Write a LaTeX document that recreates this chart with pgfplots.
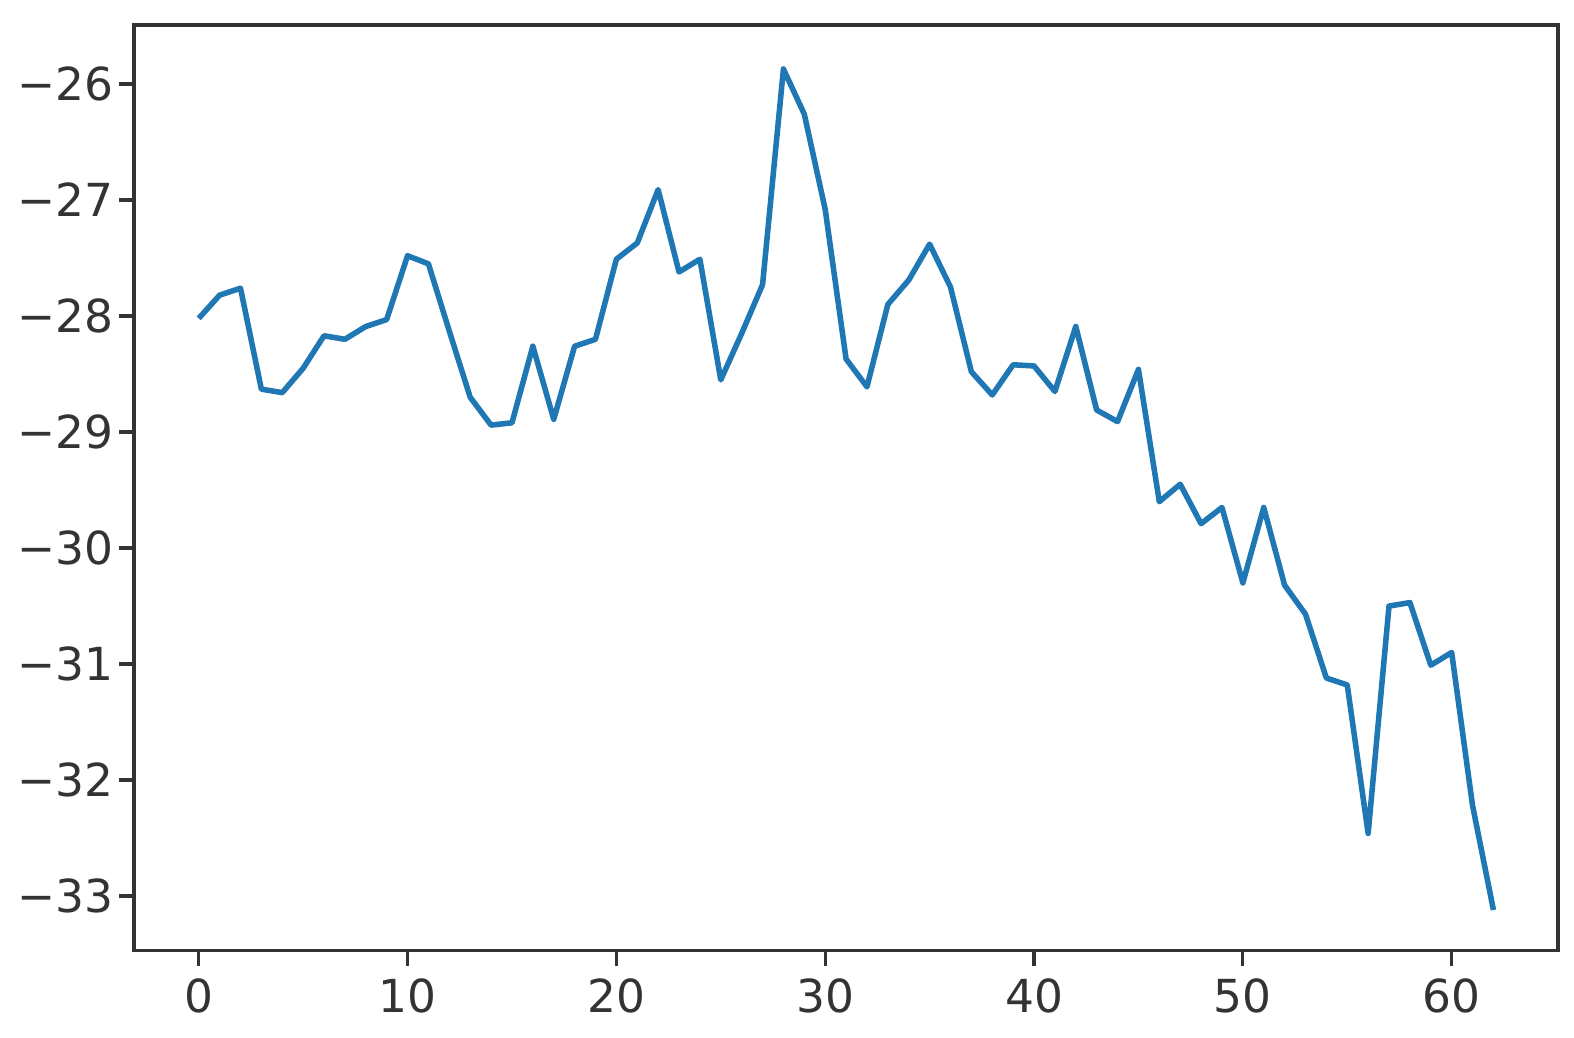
\documentclass[border=0pt]{standalone}
\usepackage{fontspec}
\setmainfont{DejaVu Sans}
\usepackage{pgfplots}
\pgfplotsset{compat=1.18}
\definecolor{mplblue}{HTML}{1F77B4}
\definecolor{axisgray}{HTML}{333333}
\begin{document}
\fontsize{11.5}{14}\selectfont
\begin{tikzpicture}
\begin{axis}[
  scale only axis,
  width=360pt, height=234pt,
  xmin=-3.1, xmax=65.1,
  ymin=-33.47, ymax=-25.49,
  xtick={0,10,20,30,40,50,60},
  ytick={-33,-32,-31,-30,-29,-28,-27,-26},
  yticklabels={−33,−32,−31,−30,−29,−28,−27,−26},
  /pgf/number format/assume math mode=true,
  tick align=outside,
  tick pos=lower,
  major tick length=3.8pt,
  tick style={axisgray, line width=0.8pt},
  axis line style={axisgray, line width=0.9pt},
  xticklabel style={inner sep=3pt},
  yticklabel style={inner sep=1.3pt},
  tick label style={text=axisgray},
]
\addplot[mplblue, line width=1.4pt, line join=round] coordinates {
(0,-28.02) (1,-27.82) (2,-27.76) (3,-28.63) (4,-28.66) (5,-28.45) (6,-28.17) (7,-28.20)
(8,-28.09) (9,-28.03) (10,-27.48) (11,-27.55) (12,-28.13) (13,-28.70) (14,-28.94) (15,-28.92)
(16,-28.26) (17,-28.89) (18,-28.26) (19,-28.20) (20,-27.51) (21,-27.37) (22,-26.91) (23,-27.62)
(24,-27.51) (25,-28.55) (26,-28.15) (27,-27.73) (28,-25.87) (29,-26.26) (30,-27.08) (31,-28.37)
(32,-28.61) (33,-27.90) (34,-27.69) (35,-27.38) (36,-27.75) (37,-28.48) (38,-28.68) (39,-28.42)
(40,-28.43) (41,-28.65) (42,-28.09) (43,-28.81) (44,-28.91) (45,-28.46) (46,-29.60) (47,-29.45)
(48,-29.79) (49,-29.65) (50,-30.30) (51,-29.65) (52,-30.32) (53,-30.57) (54,-31.12) (55,-31.18)
(56,-32.46) (57,-30.50) (58,-30.47) (59,-31.01) (60,-30.90) (61,-32.22) (62,-33.12)
};
\end{axis}
\path ([shift={(-3pt,-3.3pt)}]current axis.outer south west)
      ([shift={(4pt,6.3pt)}]current axis.north east);
\end{tikzpicture}
\end{document}
